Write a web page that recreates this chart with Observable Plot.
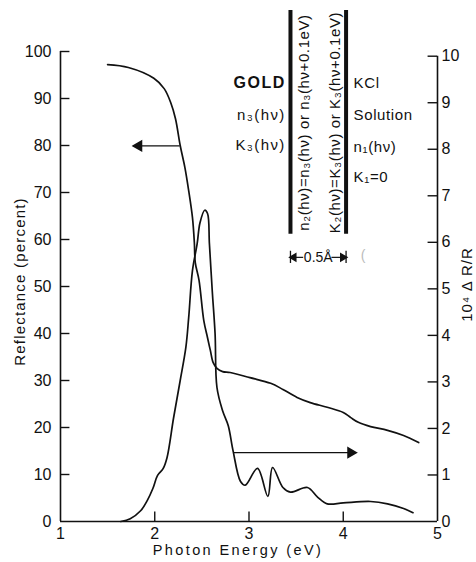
<!DOCTYPE html>
<html>
<head>
<meta charset="utf-8">
<script src="https://cdn.jsdelivr.net/npm/d3@7"></script>
<script src="https://cdn.jsdelivr.net/npm/@observablehq/plot@0.6"></script>
<style>
  html, body { margin: 0; padding: 0; background: #fff; }
  #chart svg { display: block; }
</style>
</head>
<body>
<div id="chart"></div>
<script>
// ---- Data ----
// Reflectance of gold (percent), left axis
const reflEnergy  = [1.50, 1.72, 1.99, 2.10, 2.17, 2.22, 2.27, 2.32, 2.36, 2.40, 2.42, 2.43, 2.47, 2.52, 2.56, 2.59, 2.62, 2.66, 2.72, 2.80, 3.01, 3.23, 3.36, 3.51, 3.65, 3.83, 4.00, 4.08, 4.16, 4.29, 4.47, 4.64, 4.80];
const reflPercent = [97.2, 96.6, 94.3, 92.1, 89.1, 85.7, 80.0, 75.3, 70.4, 64.7, 59.4, 55.1, 51.3, 42.8, 39.1, 36.4, 33.8, 32.6, 31.9, 31.7, 30.6, 29.4, 28.1, 26.4, 25.3, 24.3, 23.2, 22.1, 21.1, 20.2, 19.4, 18.3, 16.8];

// 10^4 ΔR/R, right axis
const drrEnergy = [1.64, 1.74, 1.85, 1.92, 1.98, 2.03, 2.09, 2.13, 2.20, 2.27, 2.33, 2.36, 2.40, 2.45, 2.48, 2.53, 2.56, 2.58, 2.61, 2.64, 2.66, 2.72, 2.78, 2.83, 2.91, 2.96, 3.09, 3.20, 3.25, 3.36, 3.44, 3.62, 3.73, 3.83, 4.00, 4.29, 4.47, 4.64, 4.74];
const drrValue  = [0.00, 0.06, 0.23, 0.45, 0.71, 0.99, 1.14, 1.37, 2.23, 3.03, 3.74, 4.38, 5.39, 5.97, 6.42, 6.69, 6.62, 5.97, 4.96, 4.04, 2.88, 2.38, 2.06, 1.53, 0.86, 0.78, 1.14, 0.54, 1.16, 0.73, 0.63, 0.73, 0.52, 0.38, 0.40, 0.43, 0.38, 0.28, 0.19];

// Tick labels
const xTickValues     = [1, 2, 3, 4, 5];
const leftTickValues  = [0, 10, 20, 30, 40, 50, 60, 70, 80, 90, 100];
const rightTickValues = [0, 1, 2, 3, 4, 5, 6, 7, 8, 9, 10];

// Text labels
const xLabel = "Photon Energy (eV)";
const leftLabel = "Reflectance (percent)";
const rightLabel = "10⁴ Δ R/R";
const goldTitle = ["GOLD"];
const goldLabels = ["n₃(hν)", "K₃(hν)"];
const solutionLabels = ["KCl", "Solution", "n₁(hν)", "K₁=0"];
const layerLabels = ["n₂(hν)=n₃(hν) or n₃(hν+0.1eV)", "K₂(hν)=K₃(hν) or K₃(hν+0.1eV)"];
const thicknessLabel = "0.5Å";

// ---- Build tables ----
const refl = reflEnergy.map((e, i) => ({e, r: reflPercent[i]}));
const drr = drrEnergy.map((e, i) => ({e, v: drrValue[i]}));

// right axis (0..10) relative to left axis (0..100)
const K = 9.9;
const FONT = "Liberation Sans, Arial, sans-serif";
const INK = "#111";

const goldY = [86.4, 80.0];
const solY = [93.2, 86.4, 79.6, 73.2];
const layerX = [3.59, 3.91];
const barX = [3.44, 4.03];

const chart = Plot.plot({
  width: 476,
  height: 562,
  marginLeft: 60,
  marginRight: 39,
  marginTop: 51,
  marginBottom: 41,
  x: {domain: [1, 5], label: null},
  y: {domain: [0, 100], label: null},
  style: {fontFamily: FONT, fontSize: "16px", color: INK, background: "#fff", overflow: "visible"},
  marks: [
    // axis frame lines
    Plot.ruleY([0], {x1: 1, x2: 5, stroke: INK, strokeWidth: 1.6}),
    Plot.ruleX([1], {y1: 0, y2: 100, stroke: INK, strokeWidth: 1.6}),
    Plot.ruleX([5], {y1: 0, y2: 10 * K, stroke: INK, strokeWidth: 1.6}),
    // inward ticks
    Plot.ruleX(xTickValues.slice(1, -1), {x: d => d, y1: 0, y2: 2, stroke: INK, strokeWidth: 1.4}),
    Plot.ruleY(leftTickValues.slice(1), {y: d => d, x1: 1, x2: 1.1, stroke: INK, strokeWidth: 1.4}),
    Plot.ruleY(rightTickValues.slice(1), {y: d => d * K, x1: 4.9, x2: 5, stroke: INK, strokeWidth: 1.4}),
    // tick labels
    Plot.axisX(xTickValues, {tickSize: 0, tickPadding: 6, fontSize: 16, tickFormat: d => String(d)}),
    Plot.axisY(leftTickValues, {anchor: "left", tickSize: 0, tickPadding: 9, fontSize: 16, tickFormat: d => String(d)}),
    Plot.axisY(rightTickValues.map(v => v * K), {anchor: "right", tickSize: 0, tickPadding: 4, fontSize: 16, tickFormat: d => String(Math.round(d / K))}),
    // axis titles
    Plot.text([xLabel], {frameAnchor: "bottom", textAnchor: "middle", dx: -11, dy: 33, fontSize: 14.5, fill: INK}),
    Plot.text([leftLabel], {frameAnchor: "left", textAnchor: "middle", rotate: -90, dx: -40, dy: -5, fontSize: 15, fill: INK}),
    Plot.text([rightLabel], {frameAnchor: "right", textAnchor: "middle", rotate: -90, dx: 30, dy: -2, fontSize: 15, fill: INK}),
    // curves
    Plot.line(refl, {x: "e", y: "r", curve: "catmull-rom", stroke: INK, strokeWidth: 1.7}),
    Plot.line(drr, {x: "e", y: d => d.v * K, curve: "catmull-rom", stroke: INK, strokeWidth: 1.7}),
    // arrows
    Plot.ruleY([79.9], {x1: 1.84, x2: 2.27, stroke: INK, strokeWidth: 1.3}),
    Plot.dot([{x: 1.83, y: 79.9}], {x: "x", y: "y", symbol: "triangle", rotate: -90, r: 3.6, fill: INK, stroke: INK}),
    Plot.ruleY([1.48 * K], {x1: 2.84, x2: 4.07, stroke: INK, strokeWidth: 1.3}),
    Plot.dot([{x: 4.08, y: 1.48 * K}], {x: "x", y: "y", symbol: "triangle", rotate: 90, r: 3.6, fill: INK, stroke: INK}),
    // layer diagram bars
    Plot.ruleX(barX, {x: d => d, y1: 61.1, y2: 108.7, stroke: INK, strokeWidth: 4}),
    // layer text
    Plot.text(goldTitle, {x: 3.39, y: 93.4, textAnchor: "end", fontSize: 16, fontWeight: "bold", fill: INK}),
    Plot.text(goldLabels, {x: 3.39, y: (d, i) => goldY[i], textAnchor: "end", fontSize: 15, fill: INK}),
    Plot.text(solutionLabels, {x: 4.11, y: (d, i) => solY[i], textAnchor: "start", fontSize: 15, fill: INK}),
    Plot.text(layerLabels, {x: (d, i) => layerX[i], y: 84.9, rotate: -90, fontSize: 15, fill: INK}),
    // thickness marker
    Plot.ruleX(barX, {x: d => d, y1: 54.9, y2: 57.5, stroke: INK, strokeWidth: 1.3}),
    Plot.ruleY([56.2, 56.2], {x1: [3.45, 3.88], x2: [3.58, 4.02], stroke: INK, strokeWidth: 1.2}),
    Plot.dot([{x: 3.475, y: 56.2, a: -90}, {x: 3.995, y: 56.2, a: 90}], {x: "x", y: "y", rotate: "a", symbol: "triangle", r: 2.6, fill: INK, stroke: INK}),
    Plot.text([thicknessLabel], {x: 3.735, y: 56.2, fontSize: 14, fill: INK}),
    // faint scan mark
    Plot.text(["("], {x: 4.21, y: 56.6, fontSize: 14, fill: "#bbb"})
  ]
});

// letter spacing to match the hand-lettered, widely spaced text
const spacing = new Map([
  [xLabel, "2.4px"],
  [leftLabel, "1.2px"],
  [rightLabel, "1px"],
  ["GOLD", "1.5px"],
  ...goldLabels.map(t => [t, "1.4px"]),
  ...solutionLabels.map(t => [t, "0.6px"]),
  ...layerLabels.map(t => [t, "0.6px"])
]);
d3.select(chart).selectAll("text").each(function() {
  const s = spacing.get(this.textContent);
  if (s) this.setAttribute("letter-spacing", s);
});

document.getElementById("chart").appendChild(chart);
</script>
</body>
</html>
